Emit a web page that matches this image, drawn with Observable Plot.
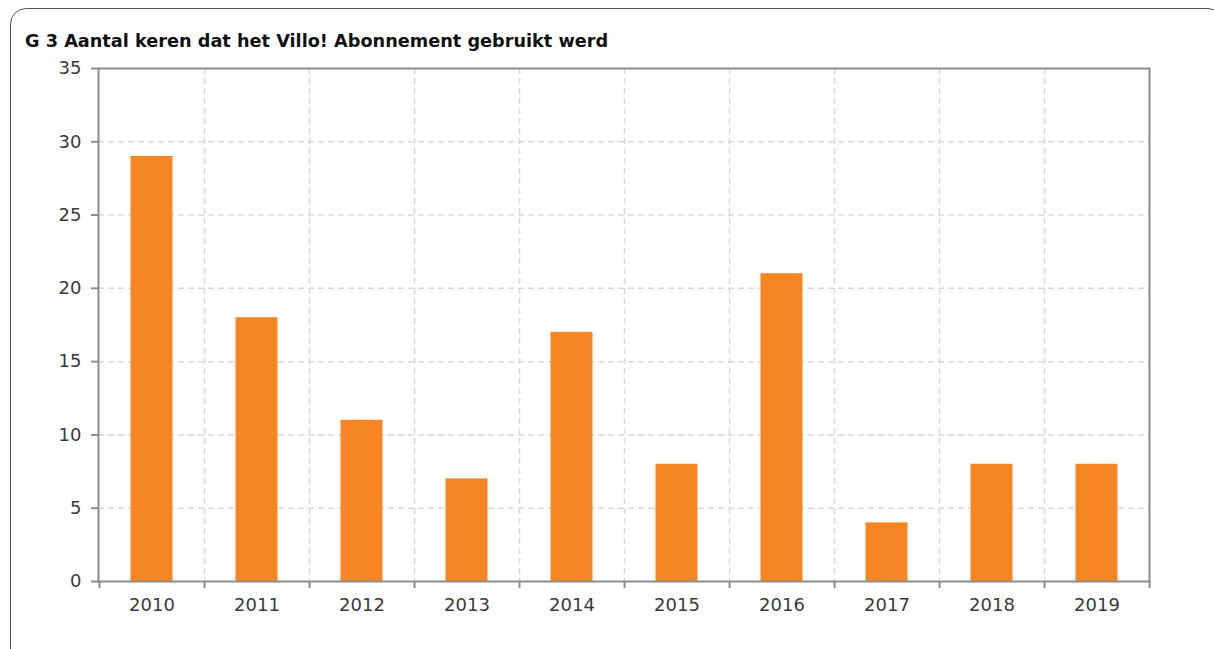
<!DOCTYPE html>
<html>
<head>
<meta charset="utf-8">
<script src="https://cdn.jsdelivr.net/npm/d3@7"></script>
<script src="https://cdn.jsdelivr.net/npm/@observablehq/plot@0.6"></script>
<style>
  html, body { margin: 0; padding: 0; background: #fff; width: 1214px; height: 649px; overflow: hidden; }
  #box { position: absolute; left: 10px; top: 8px; width: 1214px; height: 680px; border: 1.5px solid #555; border-radius: 16px; box-sizing: border-box; }
  #title { position: absolute; left: 25px; top: 31px; font-family: "DejaVu Sans", sans-serif; font-weight: bold; font-size: 17.7px; color: #111; white-space: nowrap; }
  #chart { position: absolute; left: 0; top: 56px; }
</style>
</head>
<body>
<div id="box"></div>
<div id="title">G 3 Aantal keren dat het Villo! Abonnement gebruikt werd</div>
<div id="chart"></div>
<script>
const years = ["2010","2011","2012","2013","2014","2015","2016","2017","2018","2019"];
const counts = [29, 18, 11, 7, 17, 8, 21, 4, 8, 8];
const yTicks = [0, 5, 10, 15, 20, 25, 30, 35];
const gridYTicks = [5, 10, 15, 20, 25, 30];

const data = years.map((y, i) => ({year: y, count: counts[i]}));

const W = 1214, H = 593, mL = 98, mR = 65, mT = 12, mB = 68;
const band = (W - mL - mR) / years.length;
const axisColor = "#8c8c8c";
const gridColor = "#d9d9d9";
const font = "DejaVu Sans, sans-serif";

const chart = Plot.plot({
  width: W,
  height: H,
  marginLeft: mL,
  marginRight: mR,
  marginTop: mT,
  marginBottom: mB,
  style: {fontFamily: font, fontSize: "16px", color: "#3a3a3a", background: "transparent"},
  x: {domain: years, padding: 0},
  y: {domain: [0, 35]},
  marks: [
    Plot.gridY(gridYTicks, {stroke: gridColor, strokeOpacity: 1, strokeWidth: 1.5, strokeDasharray: "6,4"}),
    Plot.gridX(years.slice(0, -1), {dx: band / 2, stroke: gridColor, strokeOpacity: 1, strokeWidth: 1.5, strokeDasharray: "6,4"}),
    Plot.barY(data, {x: "year", y: "count", fill: "#f58623", insetLeft: 31.5, insetRight: 31.5}),
    Plot.frame({stroke: axisColor, strokeWidth: 2}),
    Plot.axisY(yTicks, {tickSize: 7, tickPadding: 10, stroke: axisColor, strokeWidth: 2, fill: "#3a3a3a", fontSize: 18, label: null}),
    Plot.axisX(years, {tickSize: 0, tickPadding: 17, fill: "#3a3a3a", fontSize: 18, label: null}),
    Plot.axisX(years, {dx: band / 2, tickSize: 7, tickFormat: () => "", stroke: axisColor, strokeWidth: 2, label: null}),
    Plot.axisX([years[0]], {dx: -band / 2, tickSize: 7, tickFormat: () => "", stroke: axisColor, strokeWidth: 2, label: null})
  ]
});
document.getElementById("chart").appendChild(chart);
</script>
</body>
</html>
